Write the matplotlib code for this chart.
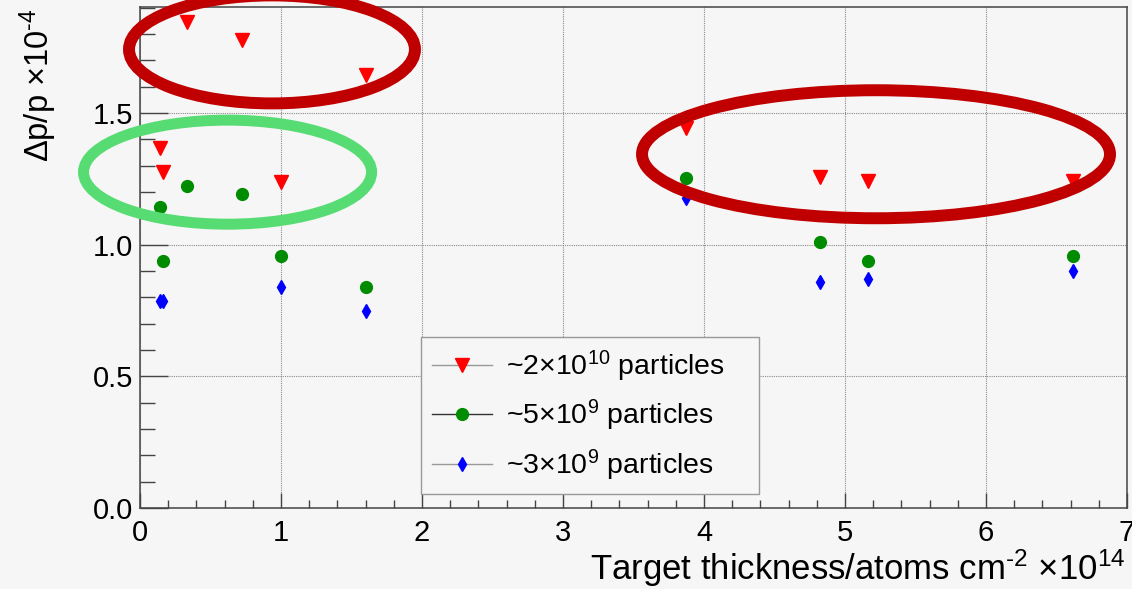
import matplotlib.pyplot as plt
from matplotlib.lines import Line2D
from matplotlib.patches import Ellipse
from matplotlib.ticker import MultipleLocator

plt.rcParams['font.family'] = ['Liberation Sans', 'DejaVu Sans']
plt.rcParams['mathtext.fontset'] = 'custom'
plt.rcParams['mathtext.rm'] = 'Liberation Sans'
plt.rcParams['mathtext.it'] = 'Liberation Sans:italic'

# Target thickness (x10^14 atoms/cm^2) and momentum spread (x10^-4)
thickness = [0.14, 0.16, 0.33, 0.725, 1.0, 1.6, 3.875, 4.825, 5.165, 6.62]
dpp_2e10 = [1.366, 1.275, 1.844, 1.775, 1.237, 1.643, 1.442, 1.258, 1.241, 1.242]
dpp_5e9 = [1.142, 0.937, 1.222, 1.191, 0.956, 0.838, 1.253, 1.009, 0.937, 0.957]
thickness_3e9 = [0.14, 0.16, 1.0, 1.6, 3.875, 4.825, 5.165, 6.62]
dpp_3e9 = [0.786, 0.786, 0.840, 0.747, 1.176, 0.857, 0.870, 0.899]

labels = [r'~2$\mathregular{\times10^{10}}$ particles',
          r'~5$\mathregular{\times10^{9}}$ particles',
          r'~3$\mathregular{\times10^{9}}$ particles']

bg = '#f6f6f6'
axis_col = '#444444'

fig = plt.figure(figsize=(11.32, 5.89), dpi=100, facecolor=bg)
ax = fig.add_axes([140 / 1132, 81 / 589, 987 / 1132, 501 / 589], facecolor=bg)

ax.plot(thickness, dpp_2e10, linestyle='none', marker='v', ms=9.5,
        color='#ff0000', mec='#ff0000', zorder=3)
ax.plot(thickness, dpp_5e9, linestyle='none', marker='o', ms=8.5,
        color='#008c00', mec='#008c00', zorder=3)
ax.plot(thickness_3e9, dpp_3e9, linestyle='none', marker='d', ms=7.5,
        color='#0000ff', mec='#0000ff', zorder=3)

ax.set_xlim(0, 7)
ax.set_ylim(0, 1.902)
ax.xaxis.set_major_locator(MultipleLocator(1))
ax.xaxis.set_minor_locator(MultipleLocator(0.2))
ax.yaxis.set_major_locator(MultipleLocator(0.5))
ax.yaxis.set_minor_locator(MultipleLocator(0.1))
ax.yaxis.set_major_formatter(lambda v, p: f'{v:.1f}')

ax.tick_params(axis='both', which='both', direction='in', colors=axis_col,
               labelcolor='black', labelsize=21, width=1.0)
ax.tick_params(axis='x', which='major', length=11, pad=8)
ax.tick_params(axis='x', which='minor', length=6)
ax.tick_params(axis='y', which='major', length=20, pad=5)
ax.tick_params(axis='y', which='minor', length=11)
for s in ax.spines.values():
    s.set_color(axis_col)
    s.set_linewidth(1.1)

ax.grid(True, which='major', color='#8a8a8a', linestyle=(0, (1, 1)), linewidth=0.8)
ax.set_axisbelow(True)

ax.set_xlabel(r'Target thickness/atoms cm$\mathregular{^{\text{-}2}}$ $\mathregular{\times10^{14}}$',
              fontsize=25, loc='right')
ax.xaxis.set_label_coords(0.998, -0.078)
ax.xaxis.label.set_va('top')
ax.set_ylabel(r'Δp/p $\mathregular{\times10^{\text{-}4}}$', fontsize=23.5, loc='top')
ax.yaxis.set_label_coords(-0.082, 0.996)

# legend entries drawn as line + marker
handles = [
    Line2D([], [], color='#999999', lw=1, marker='v', ms=9.5, mfc='#ff0000', mec='#ff0000'),
    Line2D([], [], color='#333333', lw=1, marker='o', ms=8.5, mfc='#008c00', mec='#008c00'),
    Line2D([], [], color='#999999', lw=1, marker='d', ms=7.5, mfc='#0000ff', mec='#0000ff'),
]
leg = ax.legend(handles, labels, loc='lower left', mode='expand',
                bbox_to_anchor=(0.2847, 0.028, 0.3424, 0), borderaxespad=0,
                fontsize=20.5, handlelength=2.1, handletextpad=0.5,
                labelspacing=0.5, borderpad=0.4, fancybox=False,
                framealpha=1, facecolor=bg, edgecolor='#999999')
leg.get_frame().set_linewidth(1.0)

# highlight rings
rings = [
    ((0.936, 1.741), 2.028, 0.410, '#c00000', 8.6),
    ((0.621, 1.275), 2.043, 0.395, '#57db73', 7.9),
    ((5.220, 1.343), 3.319, 0.486, '#c00000', 8.6),
]
for center, w, h, col, lw in rings:
    ax.add_patch(Ellipse(center, w, h, fill=False, edgecolor=col, lw=lw,
                         clip_on=False, zorder=5))

fig.savefig('out.png', dpi=100, facecolor=bg)
